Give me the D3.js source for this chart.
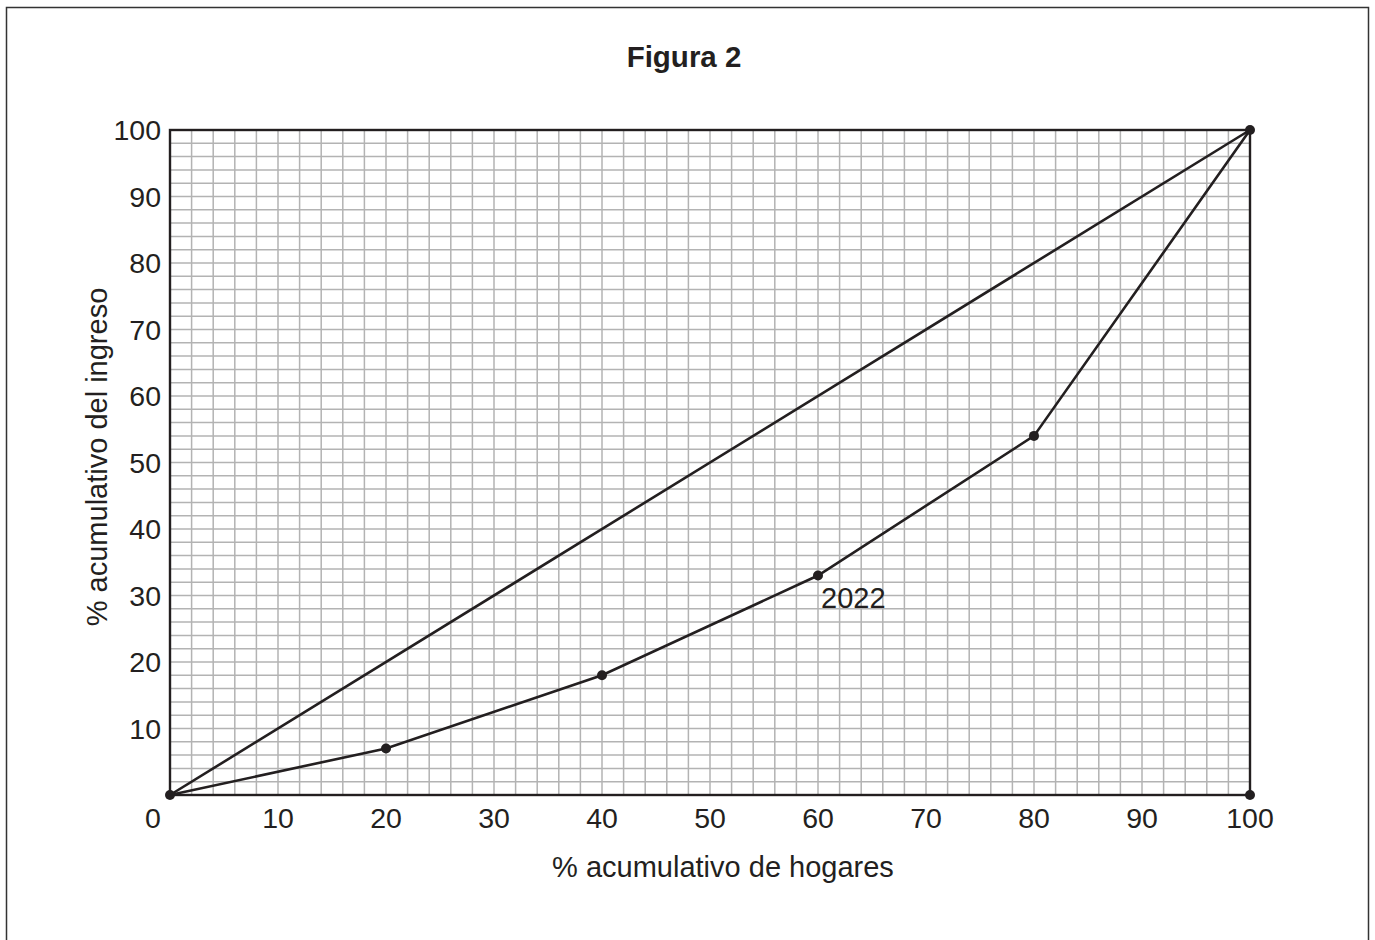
<!DOCTYPE html>
<html>
<head>
<meta charset="utf-8">
<script src="https://cdn.jsdelivr.net/npm/d3@7"></script>
<style>
  html, body { margin: 0; padding: 0; background: #fff; overflow: hidden; }
  svg { display: block; font-family: "Liberation Sans", Arial, sans-serif; }
</style>
</head>
<body>
<svg id="chart" width="1375" height="940"></svg>
<script>
// Data
const households = [0, 20, 40, 60, 80, 100];      // % acumulativo de hogares
const income2022 = [0, 7, 18, 33, 54, 100];        // % acumulativo del ingreso
const equality   = [[0, 0], [100, 100]];           // línea de igualdad
const extraDots  = [[100, 0]];
const xTicks = [10, 20, 30, 40, 50, 60, 70, 80, 90, 100];
const yTicks = [10, 20, 30, 40, 50, 60, 70, 80, 90, 100];
const curveLabel = "2022";

const svg = d3.select("#chart");
const ink = "#231f20";

// Plot area
const pL = 170, pR = 1250, pT = 130, pB = 795;
const x = d3.scaleLinear().domain([0, 100]).range([pL, pR]);
const y = d3.scaleLinear().domain([0, 100]).range([pB, pT]);

// Outer frame
svg.append("rect")
  .attr("x", 6.5).attr("y", 7.5)
  .attr("width", 1362).attr("height", 950)
  .attr("fill", "none").attr("stroke", "#333").attr("stroke-width", 1.5);

// Title
svg.append("text")
  .attr("x", 684).attr("y", 67)
  .attr("text-anchor", "middle")
  .attr("font-size", 29.5).attr("font-weight", "bold").attr("fill", ink)
  .text("Figura 2");

// Grid (every 2 units)
const minor = d3.range(2, 100, 2);
svg.append("g").selectAll("line")
  .data(minor).join("line")
    .attr("x1", d => x(d)).attr("x2", d => x(d))
    .attr("y1", pT).attr("y2", pB)
    .attr("stroke", "#b3b3b3").attr("stroke-width", 1.5);
svg.append("g").selectAll("line")
  .data(minor).join("line")
    .attr("x1", pL).attr("x2", pR)
    .attr("y1", d => y(d)).attr("y2", d => y(d))
    .attr("stroke", "#b3b3b3").attr("stroke-width", 1.5);

// Plot border
svg.append("rect")
  .attr("x", pL).attr("y", pT)
  .attr("width", pR - pL).attr("height", pB - pT)
  .attr("fill", "none").attr("stroke", ink).attr("stroke-width", 2.4);

// Tick labels
svg.append("g").selectAll("text")
  .data(xTicks).join("text")
    .attr("x", d => x(d)).attr("y", 828)
    .attr("text-anchor", "middle")
    .attr("font-size", 28.5).attr("fill", ink)
    .text(d => d);
svg.append("text")
  .attr("x", 153).attr("y", 828)
  .attr("text-anchor", "middle")
  .attr("font-size", 28.5).attr("fill", ink)
  .text("0");
svg.append("g").selectAll("text")
  .data(yTicks).join("text")
    .attr("x", 161).attr("y", d => y(d) + 10)
    .attr("text-anchor", "end")
    .attr("font-size", 28.5).attr("fill", ink)
    .text(d => d);

// Axis titles
svg.append("text")
  .attr("x", 723).attr("y", 877)
  .attr("text-anchor", "middle")
  .attr("font-size", 29).attr("fill", ink)
  .text("% acumulativo de hogares");
svg.append("text")
  .attr("transform", `translate(107,457) rotate(-90)`)
  .attr("text-anchor", "middle")
  .attr("font-size", 29).attr("fill", ink)
  .text("% acumulativo del ingreso");

// Lines
const line = d3.line().x(d => x(d[0])).y(d => y(d[1]));
svg.append("path")
  .datum(equality)
  .attr("d", line)
  .attr("fill", "none").attr("stroke", ink).attr("stroke-width", 2.6);

const curve = households.map((h, i) => [h, income2022[i]]);
svg.append("path")
  .datum(curve)
  .attr("d", line)
  .attr("fill", "none").attr("stroke", ink).attr("stroke-width", 2.6);

// Dots
svg.append("g").selectAll("circle")
  .data(curve.concat(extraDots)).join("circle")
    .attr("cx", d => x(d[0])).attr("cy", d => y(d[1]))
    .attr("r", 5).attr("fill", ink);

// Curve label
svg.append("text")
  .attr("x", x(60) + 3).attr("y", y(33) + 32)
  .attr("font-size", 29).attr("fill", ink)
  .text(curveLabel);
</script>
</body>
</html>
